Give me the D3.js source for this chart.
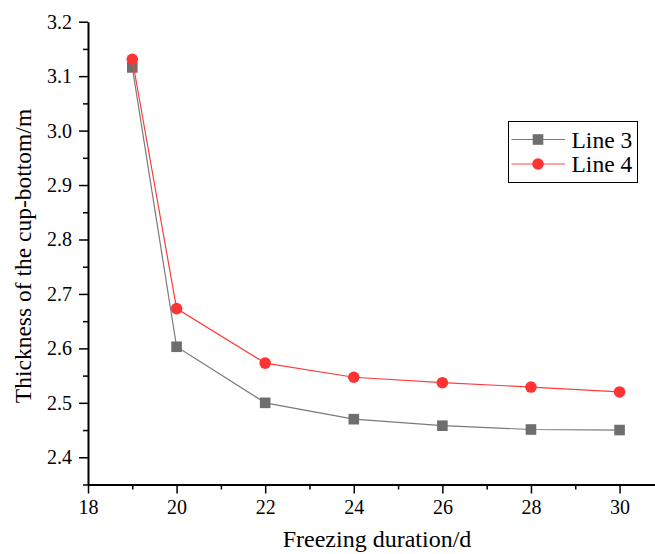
<!DOCTYPE html>
<html>
<head>
<meta charset="utf-8">
<script src="https://cdn.jsdelivr.net/npm/d3@7"></script>
<style>
  html, body { margin: 0; padding: 0; background: #fff; }
  svg { display: block; }
  svg text { font-family: "Liberation Serif", "Times New Roman", serif; fill: #000; }
</style>
</head>
<body>
<svg id="chart" width="655" height="554"></svg>
<script>
// Freezing duration (days)
const days = [19, 20, 22, 24, 26, 28, 30];
// Cup-bottom thickness (m) for each line
const line3 = [3.116, 2.603, 2.500, 2.470, 2.458, 2.451, 2.450];
const line4 = [3.131, 2.673, 2.573, 2.547, 2.537, 2.529, 2.520];
const seriesNames = ["Line 3", "Line 4"];
const xMajorTicks = [18, 20, 22, 24, 26, 28, 30];
const xMinorTicks = [19, 21, 23, 25, 27, 29];
const yMajorTicks = [2.4, 2.5, 2.6, 2.7, 2.8, 2.9, 3.0, 3.1, 3.2];
const yMinorTicks = [2.35, 2.45, 2.55, 2.65, 2.75, 2.85, 2.95, 3.05, 3.15];

const FONT = "Liberation Serif, Times New Roman, serif";
const svg = d3.select("#chart");
const plot = { left: 88, right: 655, top: 21.7, bottom: 484.5 };

const x = d3.scaleLinear().domain([18, 30.8]).range([plot.left, plot.right]);
const y = d3.scaleLinear().domain([2.35, 3.2]).range([plot.bottom, plot.top]);

// minor ticks
svg.append("g")
  .attr("transform", `translate(0,${plot.bottom})`)
  .call(d3.axisBottom(x).tickValues(xMinorTicks).tickSize(5).tickFormat(""))
  .call(g => g.select(".domain").remove())
  .call(g => g.selectAll("line").attr("stroke", "#000").attr("stroke-width", 1.5));
svg.append("g")
  .attr("transform", `translate(${plot.left},0)`)
  .call(d3.axisLeft(y).tickValues(yMinorTicks).tickSize(5).tickFormat(""))
  .call(g => g.select(".domain").remove())
  .call(g => g.selectAll("line").attr("stroke", "#000").attr("stroke-width", 1.5));

// major axes
const xAxis = svg.append("g")
  .attr("transform", `translate(0,${plot.bottom})`)
  .call(d3.axisBottom(x).tickValues(xMajorTicks).tickSize(9).tickSizeOuter(0).tickPadding(6).tickFormat(d3.format("d")));
const yAxis = svg.append("g")
  .attr("transform", `translate(${plot.left},0)`)
  .call(d3.axisLeft(y).tickValues(yMajorTicks).tickSize(9).tickSizeOuter(0).tickPadding(7).tickFormat(d3.format(".1f")));

[xAxis, yAxis].forEach(g => {
  g.attr("font-family", FONT).attr("font-size", 20);
  g.select(".domain").attr("stroke", "#000").attr("stroke-width", 2);
  g.selectAll(".tick line").attr("stroke", "#000").attr("stroke-width", 1.5);
  g.selectAll(".tick text").attr("fill", "#000");
});

// axis titles
svg.append("text")
  .attr("x", 377).attr("y", 547)
  .attr("text-anchor", "middle")
  .attr("font-family", FONT).attr("font-size", 24)
  .text("Freezing duration/d");
svg.append("text")
  .attr("transform", "translate(31,256) rotate(-90)")
  .attr("text-anchor", "middle")
  .attr("font-family", FONT).attr("font-size", 23.5)
  .text("Thickness of the cup-bottom/m");

const lineGen = d3.line().x(d => x(d[0])).y(d => y(d[1]));
const data3 = days.map((d, i) => [d, line3[i]]);
const data4 = days.map((d, i) => [d, line4[i]]);

// Line 3: grey with squares
svg.append("path").datum(data3)
  .attr("d", lineGen).attr("fill", "none")
  .attr("stroke", "#7a7a7a").attr("stroke-width", 1.2);
svg.append("g").selectAll("rect").data(data3).join("rect")
  .attr("x", d => x(d[0]) - 5.3).attr("y", d => y(d[1]) - 5.3)
  .attr("width", 10.6).attr("height", 10.6)
  .attr("fill", "#6e6e6e");

// Line 4: red with circles
svg.append("path").datum(data4)
  .attr("d", lineGen).attr("fill", "none")
  .attr("stroke", "#ff3c3c").attr("stroke-width", 1.2);
svg.append("g").selectAll("circle").data(data4).join("circle")
  .attr("cx", d => x(d[0])).attr("cy", d => y(d[1]))
  .attr("r", 5.8).attr("fill", "#ff3333");

// legend
const legend = svg.append("g");
legend.append("rect")
  .attr("x", 508.5).attr("y", 121.5).attr("width", 129).attr("height", 61)
  .attr("fill", "#fff").attr("stroke", "#000").attr("stroke-width", 1);
const legendRows = [
  { name: seriesNames[0], y: 139.5, color: "#7a7a7a", marker: "square" },
  { name: seriesNames[1], y: 164, color: "#ff4a4a", marker: "circle" }
];
legendRows.forEach(r => {
  legend.append("line")
    .attr("x1", 511.5).attr("x2", 565).attr("y1", r.y).attr("y2", r.y)
    .attr("stroke", r.color).attr("stroke-width", 1.2);
  if (r.marker === "square") {
    legend.append("rect").attr("x", 538 - 5.3).attr("y", r.y - 5.3)
      .attr("width", 10.6).attr("height", 10.6).attr("fill", "#6e6e6e");
  } else {
    legend.append("circle").attr("cx", 538).attr("cy", r.y).attr("r", 5.8).attr("fill", "#ff3333");
  }
  legend.append("text")
    .attr("x", 571.5).attr("y", r.y + 8)
    .attr("font-family", FONT).attr("font-size", 23.5)
    .text(r.name);
});
</script>
</body>
</html>
